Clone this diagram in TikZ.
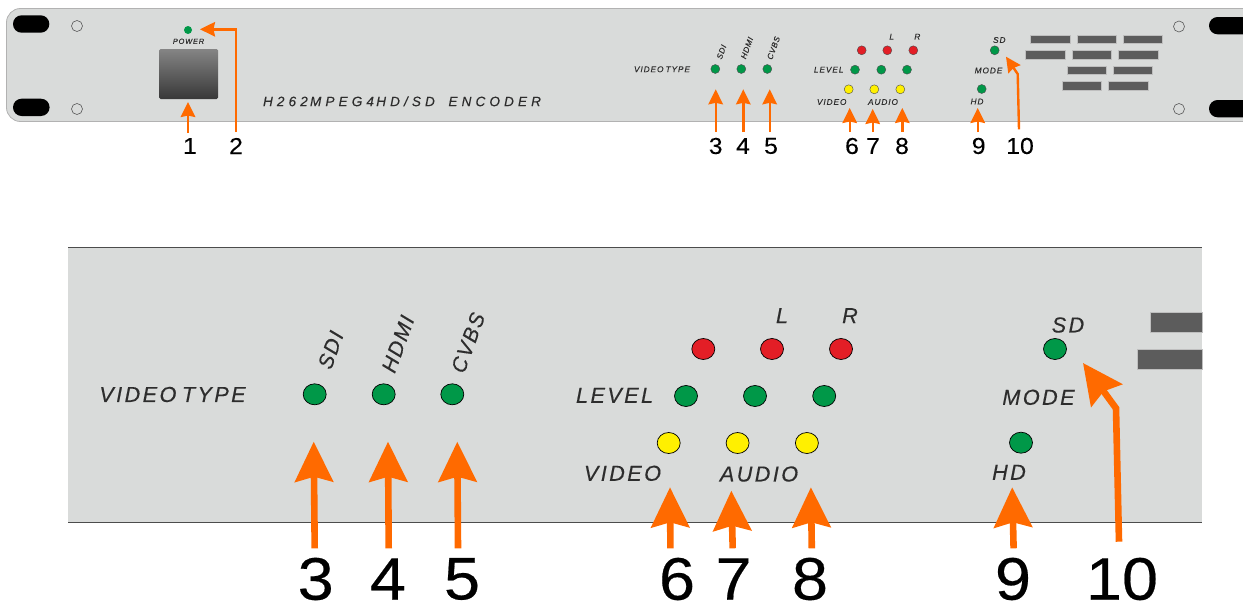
\documentclass[tikz,border=0pt]{standalone}
\usepackage{fontspec}
\usetikzlibrary{arrows.meta,shapes.geometric}
\setmainfont{Liberation Sans}
\newfontfamily\numfont[FakeBold=0.35,FakeStretch=1.08]{Liberation Sans}
\newfontfamily\numsmallfont[FakeBold=0.1,FakeStretch=1.08]{Liberation Sans}
\newfontfamily\panelfont[LetterSpace=11,FakeBold=0.25]{Liberation Sans}
\newfontfamily\panelsmallfont[LetterSpace=11,FakeBold=0.08]{Liberation Sans}
\newfontfamily\rotfont[LetterSpace=8,FakeBold=0.25]{Liberation Sans}
\newfontfamily\rotsmallfont[LetterSpace=8,FakeBold=0.08]{Liberation Sans}
\newfontfamily\titlefont[LetterSpace=30,FakeBold=0.2]{Liberation Sans}
\definecolor{panelgrey}{RGB}{217,219,218}
\definecolor{ledgreen}{RGB}{0,152,72}
\definecolor{ledred}{RGB}{227,30,38}
\definecolor{ledyellow}{RGB}{255,240,0}
\definecolor{arroworange}{RGB}{255,106,0}
\definecolor{ventgrey}{RGB}{92,92,92}
\definecolor{inkgrey}{RGB}{45,45,45}
\tikzset{
  x=1pt,y=-1pt,
  ledS/.style={ellipse,draw=black!70,line width=0.4pt,minimum width=9pt,minimum height=9pt,inner sep=0pt},
  ledL/.style={ellipse,draw=black,line width=0.7pt,minimum width=23pt,minimum height=21pt,inner sep=0pt},
  hole/.style={circle,draw=black!65,line width=0.6pt,fill=panelgrey,minimum size=11pt,inner sep=0pt},
  slot/.style={rounded corners=8.6pt,fill=black},
  vent/.style={fill=ventgrey,draw=black!25,line width=0.3pt},
  smalltxt/.style={font=\panelsmallfont\itshape\fontsize{8.3}{10}\selectfont,text=inkgrey,inner sep=0pt},
  bigtxt/.style={font=\panelfont\itshape\fontsize{21.7}{24}\selectfont,text=inkgrey,inner sep=0pt},
  smallrot/.style={font=\rotsmallfont\itshape\fontsize{8}{10}\selectfont,text=inkgrey,inner sep=0pt,rotate=70},
  bigrot/.style={font=\rotfont\itshape\fontsize{21}{24}\selectfont,text=inkgrey,inner sep=0pt,rotate=70},
  numS/.style={font=\numsmallfont\fontsize{23}{25}\selectfont,inner sep=0pt},
  numL/.style={font=\numfont\fontsize{60}{64}\selectfont,inner sep=0pt},
  arrowS/.style={draw=arroworange,line width=2.4pt,-{Stealth[length=15pt,width=14.5pt,inset=1.5pt]}},
  arrowL/.style={draw=arroworange,line width=6.6pt,-{Stealth[length=40pt,width=38pt,inset=5pt]}},
}
\begin{document}
\begin{tikzpicture}
\useasboundingbox (0,0) rectangle (1243,605);
% ---------- top panel
\begin{scope}
\clip (0,0) rectangle (1243,605);
\draw[draw=black!30,line width=0.8pt,fill=panelgrey,rounded corners=14pt] (6.5,8.5) rectangle (1275,121.5);
\fill[slot] (13,15.3) rectangle (49.3,32.7);
\fill[slot] (13,98.7) rectangle (49.6,116);
\fill[slot] (1209,17) rectangle (1270,34.3);
\fill[slot] (1209,100) rectangle (1270,117.3);
\end{scope}
\node[hole] (h1) at (77,26) {};
\node[hole] (h2) at (77,109) {};
\node[hole] (h3) at (1179,26.5) {};
\node[hole] (h4) at (1179,109) {};
\shade[top color=black!48,bottom color=black!78,rounded corners=1.5pt] (159,49) rectangle (218,99);
\node[circle,fill=ledgreen,minimum size=8pt,inner sep=0pt] (pw) at (188,30) {};
\node[font=\panelsmallfont\itshape\fontsize{7.4}{9}\selectfont,text=inkgrey,inner sep=0pt] (pwt) at (188.5,41.3) {POWER};
\node[font=\titlefont\itshape\fontsize{13.6}{16}\selectfont,text=inkgrey,inner sep=0pt] (title) at (402,101.3) {H262\,MPEG4\,HD/SD\quad ENCODER};
% vents
\fill[vent] (1030.3,35) rectangle (1069.7,43.3);
\fill[vent] (1077,35) rectangle (1116,43.3);
\fill[vent] (1123.3,35) rectangle (1162.3,43.3);
\fill[vent] (1025.3,50.3) rectangle (1064.7,58.7);
\fill[vent] (1072,50.3) rectangle (1111,58.7);
\fill[vent] (1118.3,50.3) rectangle (1157.7,58.7);
\fill[vent] (1067,65.7) rectangle (1106,74);
\fill[vent] (1113.3,65.7) rectangle (1152.3,74);
\fill[vent] (1062,81.3) rectangle (1101,89.7);
\fill[vent] (1108.3,81.3) rectangle (1147.7,89.7);
% top LEDs
\node[ledS,fill=ledgreen] (sa) at (715.3,69) {};
\node[ledS,fill=ledgreen] (sb) at (741.3,69) {};
\node[ledS,fill=ledgreen] (sc) at (767.3,69) {};
\node[ledS,fill=ledred] (sr1) at (861.7,50.3) {};
\node[ledS,fill=ledred] (sr2) at (887.3,50.3) {};
\node[ledS,fill=ledred] (sr3) at (913.3,50.3) {};
\node[ledS,fill=ledgreen] (sg1) at (855,69.7) {};
\node[ledS,fill=ledgreen] (sg2) at (881.3,69.7) {};
\node[ledS,fill=ledgreen] (sg3) at (907,69.7) {};
\node[ledS,fill=ledyellow] (sy1) at (848.7,89.3) {};
\node[ledS,fill=ledyellow] (sy2) at (874.3,89.3) {};
\node[ledS,fill=ledyellow] (sy3) at (900.3,89.3) {};
\node[ledS,fill=ledgreen] (ssd) at (994.7,50.3) {};
\node[ledS,fill=ledgreen] (shd) at (981.7,89) {};
% top labels
\node[smalltxt] (tvt) at (662,69.3) {VIDEO\hspace{0.25em}TYPE};
\node[smallrot] (tsdi) at (721.5,52) {SDI};
\node[smallrot] (thdmi) at (747,48) {HDMI};
\node[smallrot] (tcvbs) at (773.5,48) {CVBS};
\node[smalltxt] (tl) at (891.7,36.7) {L};
\node[smalltxt] (tr) at (917.3,36.7) {R};
\node[smalltxt] (tlev) at (828.7,69.7) {LEVEL};
\node[smalltxt] (tvid) at (831.7,102) {VIDEO};
\node[smalltxt] (taud) at (883,102) {AUDIO};
\node[smalltxt] (thd) at (977,101.5) {HD};
\node[smalltxt] (tsd) at (999.3,40) {SD};
\node[smalltxt] (tmode) at (988.5,70.5) {MODE};
% top numbers
\node[numS] (n1) at (190,146) {1};
\node[numS] (n2) at (236,146) {2};
\node[numS] (n3) at (715.7,146) {3};
\node[numS] (n4) at (743,146) {4};
\node[numS] (n5) at (771,146) {5};
\node[numS] (n6) at (852,146) {6};
\node[numS] (n7) at (873,146) {7};
\node[numS] (n8) at (902,146) {8};
\node[numS] (n9) at (978.7,146) {9};
\node[numS] (n10) at (1020,146) {10};
% top arrows
\coordinate (a1s) at (188,133); \coordinate (a1e) at (188,102);
\coordinate (a2s) at (236,132); \coordinate (a2b) at (236,29.3); \coordinate (a2e) at (200,29.3);
\coordinate (a3s) at (715.7,132); \coordinate (a3e) at (715.7,89.3);
\coordinate (a4s) at (743.3,132); \coordinate (a4e) at (743.3,89.3);
\coordinate (a5s) at (769.7,132); \coordinate (a5e) at (769.7,89.3);
\coordinate (a6s) at (849.7,132); \coordinate (a6e) at (849.7,108);
\coordinate (a7s) at (872.7,132); \coordinate (a7e) at (872.7,109);
\coordinate (a8s) at (902.3,132); \coordinate (a8e) at (902.3,108);
\coordinate (a9s) at (977.7,132); \coordinate (a9e) at (977.7,108);
\coordinate (a10s) at (1019,129.3); \coordinate (a10b) at (1017.7,74); \coordinate (a10e) at (1006,56.7);
\draw[arrowS] (a1s) -- (a1e);
\draw[arrowS,miter limit=10] (a2s) -- (a2b) -- (a2e);
\draw[arrowS] (a3s) -- (a3e);
\draw[arrowS] (a4s) -- (a4e);
\draw[arrowS] (a5s) -- (a5e);
\draw[arrowS] (a6s) -- (a6e);
\draw[arrowS] (a7s) -- (a7e);
\draw[arrowS] (a8s) -- (a8e);
\draw[arrowS] (a9s) -- (a9e);
\draw[arrowS] (a10s) -- (a10b) -- (a10e);
% ---------- bottom panel
\fill[panelgrey] (68,247.3) rectangle (1202,522.3);
\draw[draw=black!70,line width=0.8pt] (68,247.3) -- (1202,247.3);
\draw[draw=black!70,line width=0.8pt] (68,522.3) -- (1202,522.3);
\fill[vent] (1150,312.3) rectangle (1202,332);
\fill[vent] (1137,349.3) rectangle (1202,368.7);
% bottom LEDs
\node[ledL,fill=ledgreen] (la) at (314.7,394.3) {};
\node[ledL,fill=ledgreen] (lb) at (383.7,394.3) {};
\node[ledL,fill=ledgreen] (lc) at (452.3,394.3) {};
\node[ledL,fill=ledred] (lr1) at (703.3,349) {};
\node[ledL,fill=ledred] (lr2) at (772,349) {};
\node[ledL,fill=ledred] (lr3) at (841,349) {};
\node[ledL,fill=ledgreen] (lg1) at (686,396) {};
\node[ledL,fill=ledgreen] (lg2) at (755,396) {};
\node[ledL,fill=ledgreen] (lg3) at (824.2,396) {};
\node[ledL,fill=ledyellow] (ly1) at (668.7,443) {};
\node[ledL,fill=ledyellow] (ly2) at (737.6,443) {};
\node[ledL,fill=ledyellow] (ly3) at (806.9,443) {};
\node[ledL,fill=ledgreen] (lsd) at (1055,349) {};
\node[ledL,fill=ledgreen] (lhd) at (1021,442.7) {};
% bottom labels
\node[bigtxt] (bvt) at (172.5,394.5) {VIDEO\hspace{0.25em}TYPE};
\node[bigrot] (bsdi) at (330.7,350) {SDI};
\node[bigrot] (bhdmi) at (398,344) {HDMI};
\node[bigrot] (bcvbs) at (468,342.7) {CVBS};
\node[bigtxt] (bl) at (782,315.7) {L};
\node[bigtxt] (br) at (850,315.7) {R};
\node[bigtxt] (bsd) at (1068,325) {SD};
\node[bigtxt] (blev) at (614.6,395.3) {LEVEL};
\node[bigtxt] (bmode) at (1038.5,397.3) {MODE};
\node[bigtxt] (bvid) at (622.5,473.3) {VIDEO};
\node[bigtxt] (baud) at (759,474) {AUDIO};
\node[bigtxt] (bhd) at (1009,472.3) {HD};
% bottom numbers
\node[numL] (m3) at (315.7,579) {3};
\node[numL] (m4) at (388,579) {4};
\node[numL] (m5) at (462,579) {5};
\node[numL] (m6) at (677,579) {6};
\node[numL] (m7) at (733.6,579) {7};
\node[numL] (m8) at (810,579) {8};
\node[numL] (m9) at (1013,579) {9};
\node[numL] (m10) at (1122,579) {10};
% bottom arrows
\coordinate (b3s) at (314.7,548.3); \coordinate (b3e) at (313.7,441.7);
\coordinate (b4s) at (388.7,548.3); \coordinate (b4e) at (388,441.7);
\coordinate (b5s) at (458,548.3); \coordinate (b5e) at (457.3,441.7);
\coordinate (b6s) at (670.4,548.3); \coordinate (b6e) at (670,487.3);
\coordinate (b7s) at (732.7,548.3); \coordinate (b7e) at (731.3,490.7);
\coordinate (b8s) at (811.8,548.3); \coordinate (b8e) at (810.9,487.3);
\coordinate (b9s) at (1013.6,548.3); \coordinate (b9e) at (1012.2,487.3);
\coordinate (b10s) at (1119,541.7); \coordinate (b10b) at (1116,408.3); \coordinate (b10e) at (1083,363);
\draw[arrowL] (b3s) -- (b3e);
\draw[arrowL] (b4s) -- (b4e);
\draw[arrowL] (b5s) -- (b5e);
\draw[arrowL] (b6s) -- (b6e);
\draw[arrowL] (b7s) -- (b7e);
\draw[arrowL] (b8s) -- (b8e);
\draw[arrowL] (b9s) -- (b9e);
\draw[arrowL] (b10s) -- (b10b) -- (b10e);
\end{tikzpicture}
\end{document}
